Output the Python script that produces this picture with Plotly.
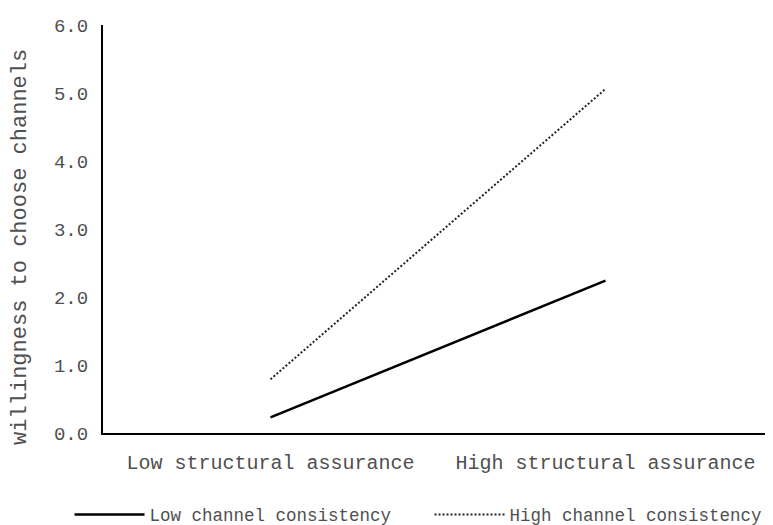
import plotly.graph_objects as go

categories = ["Low structural assurance", "High structural assurance"]
low_consistency = [0.23, 2.24]
high_consistency = [0.79, 5.06]
series_names = ["Low channel consistency", "High channel consistency"]
y_ticks = [0, 1, 2, 3, 4, 5, 6]
y_title = "willingness to choose channels"

FONT = "Liberation Mono"
TXT = "#505050"

fig = go.Figure()
fig.add_trace(go.Scatter(
    x=categories, y=low_consistency, mode="lines", name=series_names[0],
    line=dict(color="black", width=2.5), legend="legend"))
fig.add_trace(go.Scatter(
    x=categories, y=high_consistency, mode="lines", name=series_names[1],
    line=dict(color="#222222", width=2, dash="2px,2px"), legend="legend2"))

legend_common = dict(orientation="h", xanchor="left", yanchor="middle", y=0.02,
                     xref="container", yref="container",
                     font=dict(family=FONT, size=17.5, color=TXT), itemwidth=70)

fig.update_layout(
    width=765, height=517,
    margin=dict(l=95, r=0, t=17, b=92, autoexpand=False),
    paper_bgcolor="white", plot_bgcolor="white",
    font=dict(family=FONT, size=19, color=TXT),
    showlegend=True,
    legend=dict(x=0.0804, **legend_common),
    legend2=dict(x=0.5510, **legend_common),
    annotations=[dict(text=y_title, textangle=-90, xref="paper", yref="paper",
                      x=-0.1225, y=0.456, xanchor="center", yanchor="middle",
                      showarrow=False, font=dict(family=FONT, size=22, color=TXT))],
)
fig.update_xaxes(type="category", range=[-0.5, 1.5], showline=True, linecolor="black",
                 linewidth=2, showgrid=False, ticks="", ticklabelstandoff=10, automargin=False,
                 tickfont=dict(family=FONT, size=20, color=TXT))
fig.update_yaxes(range=[0, 6], tickvals=y_ticks, tickformat=".1f", showline=True,
                 linecolor="black", linewidth=2, showgrid=False, zeroline=False,
                 ticks="", ticklabelstandoff=9, automargin=False,
                 tickfont=dict(family=FONT, size=19, color=TXT))

fig.write_html("out.html")
